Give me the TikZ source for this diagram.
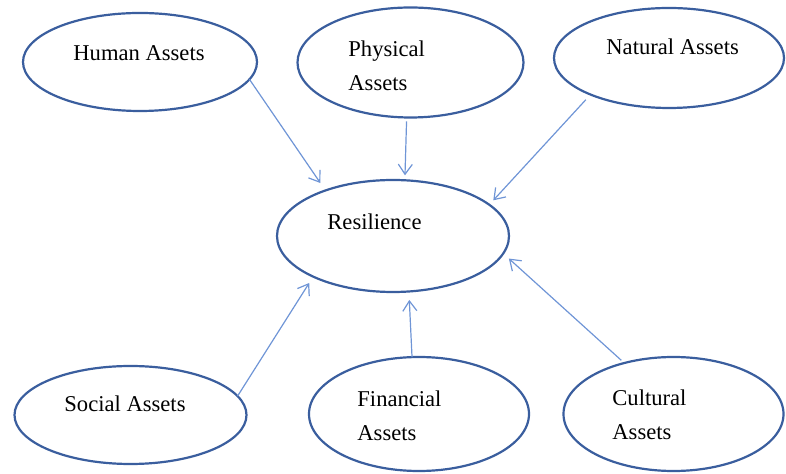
\documentclass[tikz,border=0pt]{standalone}
\usepackage{fontspec}
\setmainfont{Liberation Serif}
\usetikzlibrary{shapes.geometric, arrows.meta}
\definecolor{ringblue}{HTML}{3A5E9E}
\definecolor{linkblue}{HTML}{6F95D6}

\begin{document}
\begin{tikzpicture}[x=0.5pt, y=-0.5pt,
    asset/.style={ellipse, draw=ringblue, line width=1.1pt, inner sep=0pt, outer sep=0pt},
    link/.style={draw=linkblue, line width=0.6pt, -{Straight Barb[length=5pt, width=7pt]}},
    lbl/.style={anchor=base west, inner sep=0pt, font=\fontsize{11.3}{17}\selectfont, align=left}]
    \useasboundingbox (0, 0) rectangle (786, 474);

    % Centre
    \node[asset, minimum width=116pt, minimum height=56pt] (res) at (393, 236) {};
    \node[lbl] (reslbl) at (327, 230) {Resilience};

    % Top row
    \node[asset, minimum width=117pt, minimum height=49pt] (human) at (140, 62) {};
    \node[lbl] (humanlbl) at (73, 61) {Human Assets};

    \node[asset, minimum width=113pt, minimum height=55pt] (phys) at (410.5, 62.5) {};
    \node[lbl] (physlbl) at (348, 91) {Physical\\Assets};

    \node[asset, minimum width=115pt, minimum height=50pt] (nat) at (669, 58) {};
    \node[lbl] (natlbl) at (606, 55) {Natural Assets};

    % Bottom row
    \node[asset, minimum width=116pt, minimum height=49pt] (soc) at (130.5, 415) {};
    \node[lbl] (soclbl) at (64, 412) {Social Assets};

    \node[asset, minimum width=110pt, minimum height=57pt] (fin) at (419, 414) {};
    \node[lbl] (finlbl) at (357, 441) {Financial\\Assets};

    \node[asset, minimum width=110pt, minimum height=57pt] (cult) at (673.5, 414) {};
    \node[lbl] (cultlbl) at (612, 440) {Cultural\\Assets};

    % Arrows into resilience
    \draw[link, shorten >=4.5pt] (human.-9) -- (res.146);
    \draw[link, shorten <=2pt, shorten >=2.5pt] (phys.-94) -- (res.78);
    \draw[link, shorten <=3.5pt, shorten >=3pt] (nat.205) -- (res.18);
    \draw[link, shorten >=3.75pt] (soc.10) -- (res.207);
    \draw[link, shorten >=4.25pt] (fin.97) -- (res.-74);
    \draw[link, shorten <=2pt, shorten >=3.8pt] (cult.134) -- (res.-9);
\end{tikzpicture}
\end{document}
